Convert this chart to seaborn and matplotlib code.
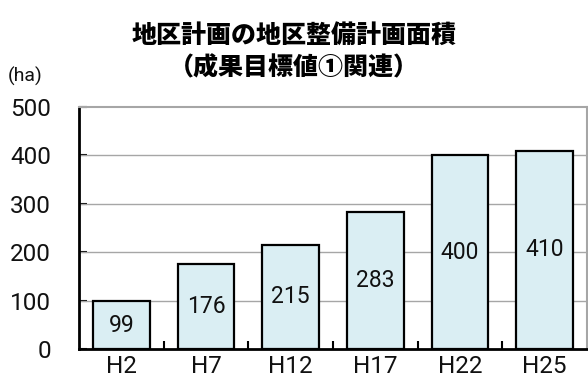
import matplotlib
matplotlib.use("Agg")
import matplotlib.pyplot as plt
import seaborn as sns
import pandas as pd
import numpy as np

periods = ["H2", "H7", "H12", "H17", "H22", "H25"]
area_ha = [99, 176, 215, 283, 400, 410]
y_ticks = [0, 100, 200, 300, 400, 500]

sns.set_theme(style="white")
plt.rcParams["font.family"] = ["Roboto", "Noto Sans CJK JP"]

df = pd.DataFrame({"period": periods, "area": area_ha})

fig = plt.figure(figsize=(5.88, 3.85), dpi=100)
ax = fig.add_axes([79 / 588, 1 - 349 / 385, 508 / 588, 242 / 385])

sns.barplot(data=df, x="period", y="area", color="#DAEEF3", saturation=1,
            edgecolor="black", linewidth=1.6, width=0.67, ax=ax, zorder=3)

for c in ax.containers:
    ax.bar_label(c, labels=[str(v) for v in area_ha], label_type="center",
                 fontsize=16.5, color="#111111")

ax.set_ylim(0, 500)
ax.set_xlim(-0.5, len(periods) - 0.5)
ax.set_yticks(y_ticks)
ax.set_yticklabels([str(v) for v in y_ticks], fontsize=17.5, color="#111111")
ax.set_xticklabels(periods, fontsize=17.5, color="#111111")
ax.set_xlabel("")
ax.set_ylabel("")

for v in y_ticks[1:-1]:
    ax.axhline(v, color="#a6a6a6", linewidth=1.0, zorder=1)

ax.spines["left"].set_color("black")
ax.spines["left"].set_linewidth(2)
ax.spines["bottom"].set_color("black")
ax.spines["bottom"].set_linewidth(2)
ax.spines["top"].set_color("#a6a6a6")
ax.spines["top"].set_linewidth(1.5)
ax.spines["right"].set_color("#a6a6a6")
ax.spines["right"].set_linewidth(1.5)

ax.tick_params(axis="y", direction="in", length=6, width=1.5, color="black",
               left=True, pad=20)
ax.tick_params(axis="x", which="major", length=0, pad=4)
ax.set_xticks(np.arange(0.5, len(periods) - 0.5, 1.0), minor=True)
ax.tick_params(axis="x", which="minor", direction="in", length=6, width=1.5,
               color="black", bottom=True)

fig.text(0.5, 1 - 35 / 385, "地区計画の地区整備計画面積", ha="center", va="center",
         fontsize=18, fontweight="heavy", color="black",
         family=["Noto Sans CJK JP"])
fig.text(0.5, 1 - 67 / 385, "（成果目標値①関連）", ha="center", va="center",
         fontsize=18, fontweight="heavy", color="black",
         family=["Noto Sans CJK JP"])
fig.text(8 / 588, 1 - 76 / 385, "(ha)", ha="left", va="center",
         fontsize=14, color="#111111")

fig.savefig("out.png", dpi=100)
